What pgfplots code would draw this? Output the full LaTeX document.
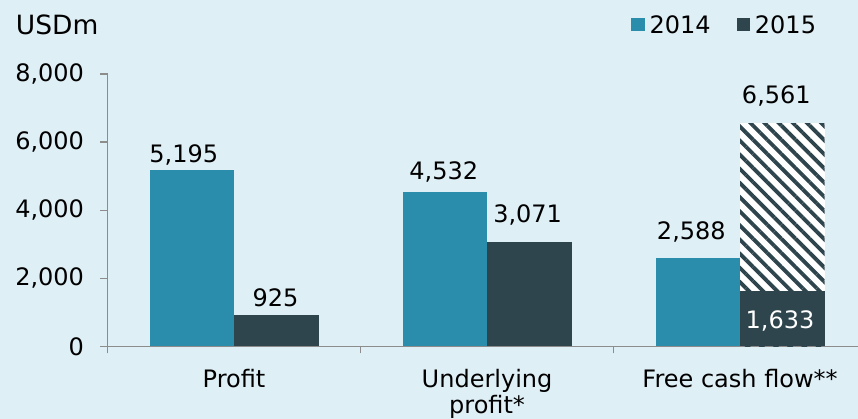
\documentclass[border=0pt]{standalone}
\usepackage{pgfplots}
\pgfplotsset{compat=1.18}
\usepackage{fontspec}
\setmainfont{DejaVu Sans}
\usetikzlibrary{patterns.meta}
\definecolor{bg}{HTML}{DFEFF6}
\definecolor{teal14}{HTML}{2A8DAC}
\definecolor{dark15}{HTML}{2E454E}
\definecolor{axgray}{HTML}{8C8C8C}
\newcommand{\chartfont}{\fontsize{24}{26}\selectfont}
\pgfplotsset{
  lbl/.style 2 args={every node near coord/.append style={xshift=#1, yshift=#2}},
  s14/.style={bar shift=-42.25pt, fill=teal14, draw=none},
  s15/.style={bar shift=42.25pt, fill=dark15, draw=none},
}
\begin{document}
\begin{tikzpicture}
\useasboundingbox (0pt,0pt) rectangle (858pt,419pt);
\fill[bg] (0pt,0pt) rectangle (858pt,419pt);
\begin{axis}[
  at={(107.5pt,72.5pt)}, anchor=south west,
  scale only axis, width=750.5pt, height=272.5pt,
  xmin=-0.5, xmax=2.466, ymin=0, ymax=8000,
  axis x line*=bottom, axis y line*=left,
  axis line style={axgray, line width=1.4pt, -},
  tick style={axgray, line width=1.4pt},
  major tick length=7pt, tick align=outside,
  /pgf/number format/assume math mode=true,
  /pgf/number format/1000 sep={,},
  tick label style={font=\chartfont, text=black},
  ytick={0,2000,4000,6000,8000},
  yticklabel style={xshift=-13pt},
  xtick={-0.5,0.5,1.5}, xticklabels={,,},
  extra x ticks={0,1,2},
  extra x tick labels={Profit,{Underlying\\profit*},{Free cash flow**}},
  extra x tick style={major tick length=0pt, xticklabel style={align=center, anchor=north, yshift=-19.5pt}},
  ybar, bar width=84.5pt,
  nodes near coords,
  every node near coord/.append style={font=\chartfont, text=black, anchor=base},
  legend columns=2,
  legend style={draw=none, fill=none, at={(0.951,1.18)}, anchor=east,
    font=\chartfont, /tikz/every even column/.append style={column sep=24pt}},
  legend image code/.code={\fill[#1] (0pt,-6.5pt) rectangle (13.7pt,6.5pt); \path (16.2pt,0pt);},
]
% 2014 / 2015
\addplot[s14, lbl={-8pt}{7pt}] coordinates {(0,5195)};
\addlegendentry{2014}
\addplot[s15, lbl={-0.7pt}{8.3pt}] coordinates {(0,925)};
\addlegendentry{2015}
\addplot[s14, lbl={-1pt}{13pt}, forget plot] coordinates {(1,4532)};
\addplot[s14, lbl={-6.5pt}{18.7pt}, forget plot] coordinates {(2,2588)};
\addplot[s15, lbl={-1.7pt}{19pt}, forget plot] coordinates {(1,3071)};
\addplot[bar shift=42.25pt, draw=none, preaction={fill=white},
  pattern={Lines[angle=-45,distance=10pt,line width=3.8pt]}, pattern color=dark15,
  lbl={-6pt}{20pt}, forget plot] coordinates {(2,6561)};
\addplot[s15, lbl={-2.3pt}{-37.5pt}, forget plot,
  every node near coord/.append style={text=white}] coordinates {(2,1633)};
\end{axis}
\node[anchor=base west, inner sep=0pt, font=\fontsize{26.5}{28}\selectfont] at (15.7pt,384.7pt) {USDm};
\end{tikzpicture}
\end{document}
